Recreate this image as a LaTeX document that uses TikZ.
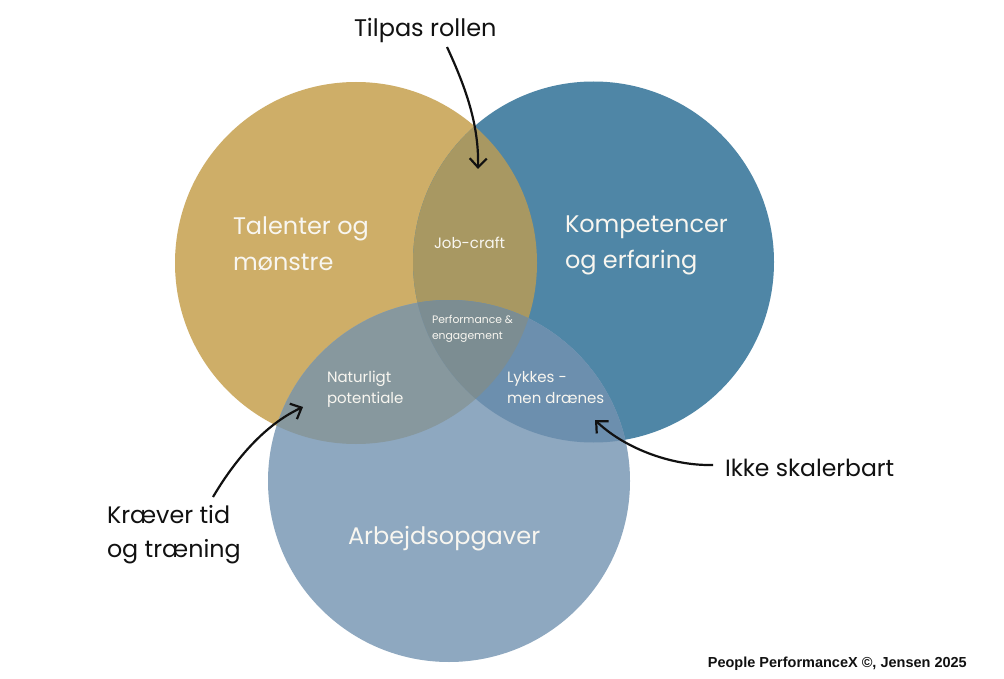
\documentclass[tikz,border=0pt]{standalone}
\usepackage{fontspec}
\setmainfont{Poppins}
\newfontfamily\footfont{Liberation Sans}
\usetikzlibrary{arrows.meta}
\definecolor{cgold}{HTML}{CEAE68}
\definecolor{cblue}{HTML}{4F86A6}
\definecolor{clight}{HTML}{8EA8C0}
\definecolor{cgb}{HTML}{A89862}
\definecolor{cgl}{HTML}{87989E}
\definecolor{cbl}{HTML}{6C8FAE}
\definecolor{ctri}{HTML}{7C8D92}
\definecolor{ctxt}{HTML}{F8F6F0}
\definecolor{cink}{HTML}{111111}
\begin{document}
\begin{tikzpicture}[x=1pt,y=-1pt,
  lbl/.style={anchor=base west, inner sep=0pt, outer sep=0pt},
  wbig/.style={lbl, text=ctxt, font=\fontsize{24}{24}\selectfont},
  wmid/.style={lbl, text=ctxt, font=\fontsize{15}{15}\selectfont},
  wsml/.style={lbl, text=ctxt, font=\fontsize{10.8}{10.8}\selectfont},
  bcall/.style={lbl, text=cink, font=\fontsize{23.8}{23.8}\selectfont},
  arr/.style={draw=cink, line width=2.2pt, -{Straight Barb[length=9pt,width=17pt]}}]
\useasboundingbox (0,0) rectangle (1004,679);
\fill[white] (0,0) rectangle (1004,679);
% circles
\fill[cgold] (356,263) circle[radius=181pt];
\fill[cblue] (593.5,262) circle[radius=180.5pt];
\fill[clight] (449,481) circle[radius=181pt];
\begin{scope}
  \clip (356,263) circle[radius=181pt];
  \fill[cgb] (593.5,262) circle[radius=180.5pt];
\end{scope}
\begin{scope}
  \clip (356,263) circle[radius=181pt];
  \fill[cgl] (449,481) circle[radius=181pt];
\end{scope}
\begin{scope}
  \clip (593.5,262) circle[radius=180.5pt];
  \fill[cbl] (449,481) circle[radius=181pt];
\end{scope}
\begin{scope}
  \clip (356,263) circle[radius=181pt];
  \clip (593.5,262) circle[radius=180.5pt];
  \fill[ctri] (449,481) circle[radius=181pt];
\end{scope}
% circle labels
\node[wbig] (tal1) at (233,234) {Talenter og};
\node[wbig] (tal2) at (233,270) {mønstre};
\node[wbig] (komp1) at (565,233) {Kompetencer};
\node[wbig] (komp2) at (565,269) {og erfaring};
\node[wbig] (arb) at (348,544) {Arbejdsopgaver};
\node[wmid] (job) at (434,248) {Job-craft};
\node[wsml] (perf1) at (432,323) {Performance \&};
\node[wsml] (perf2) at (432,339) {engagement};
\node[wmid] (nat1) at (327,382) {Naturligt};
\node[wmid] (nat2) at (327,403) {potentiale};
\node[wmid] (lyk1) at (507,382) {Lykkes -};
\node[wmid] (lyk2) at (507,403) {men drænes};
% callouts
\node[bcall, font=\fontsize{24}{24}\selectfont] (tilpas) at (354,37) {Tilpas rollen};
\node[bcall, font=\fontsize{23.5}{23.5}\selectfont] (ikke) at (725,476) {Ikke skalerbart};
\node[bcall] (kraev1) at (107,523) {Kræver tid};
\node[bcall] (kraev2) at (107,557) {og træning};
\node[anchor=base east, inner sep=0pt, text=cink, font=\footfont\bfseries\fontsize{14.5}{14.5}\selectfont] (foot) at (967,667) {People PerformanceX ©, Jensen 2025};
% arrow ends
\coordinate (tA) at (447,47);
\coordinate (hA) at (478,169);
\coordinate (tB) at (213,497);
\coordinate (hB) at (303,407);
\coordinate (tC) at (713,465);
\coordinate (hC) at (595,420);
\draw[arr] (tA) .. controls (466,88) and (479,125) .. (hA);
\draw[arr] (tB) .. controls (236,458) and (266,424) .. (hB);
\draw[arr] (tC) .. controls (668,466) and (622,446) .. (hC);
\end{tikzpicture}
\end{document}
